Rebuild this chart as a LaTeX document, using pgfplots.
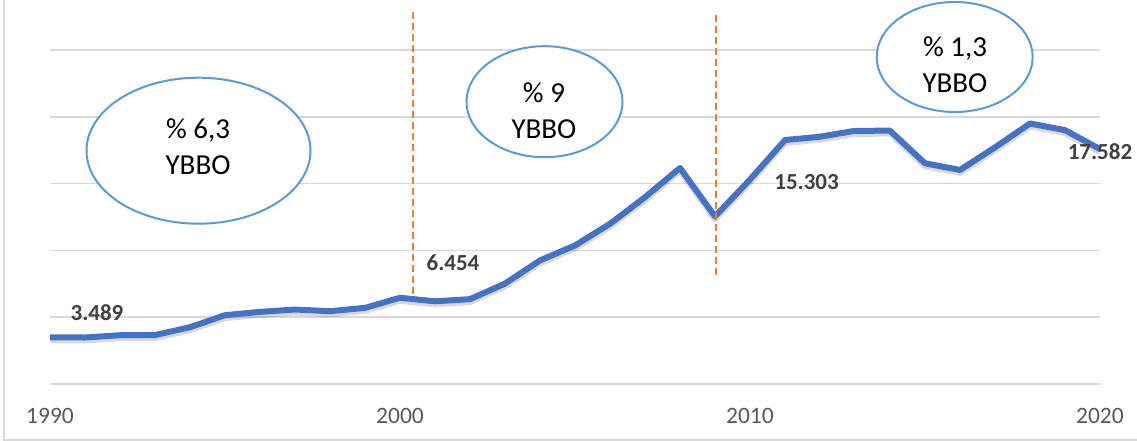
\documentclass[border=0pt]{standalone}
\usepackage{fontspec}
\setmainfont{Carlito}
\usepackage{pgfplots}
\usepackage{pgfplotstable}
\pgfplotsset{compat=1.18}
\definecolor{linecol}{HTML}{4472C4}
\definecolor{ellcol}{HTML}{5B9BD5}
\definecolor{dashcol}{HTML}{ED7D31}
\definecolor{gridcol}{HTML}{D9D9D9}
\definecolor{tickcol}{HTML}{595959}
\definecolor{labcol}{HTML}{404040}
\pgfplotstableread{
year value
1990 3489
1991 3480
1992 3650
1993 3660
1994 4250
1995 5150
1996 5400
1997 5575
1998 5450
1999 5700
2000 6454
2001 6190
2002 6350
2003 7515
2004 9250
2005 10370
2006 11990
2007 13980
2008 16170
2009 12540
2010 15303
2011 18260
2012 18510
2013 18950
2014 18960
2015 16520
2016 16020
2017 17710
2018 19500
2019 19000
2020 17582
}\datatable
\begin{document}
\begin{tikzpicture}
\useasboundingbox (-50pt,-57pt) rectangle (1087pt,384pt);
\draw[gridcol, line width=1.5pt] (-46pt,384pt) -- (-46pt,-56pt) -- (1087pt,-56pt);
\begin{axis}[
  scale only axis, width=1050pt, height=334pt,
  xmin=1990, xmax=2020, ymin=0, ymax=25000,
  xtick={1990,2000,2010,2020},
  ytick={0,5000,10000,15000,20000,25000},
  yticklabels={},
  scaled y ticks=false,
  ymajorgrids, grid style={gridcol, line width=1.5pt},
  axis line style={draw=none},
  major tick length=0pt,
  xticklabel style={font=\fontsize{23.5}{28}\selectfont, text=tickcol, anchor=base, yshift=-40pt},
  /pgf/number format/1000 sep={},
  /pgf/number format/assume math mode=true,
  clip=false,
]
\addplot[black, opacity=0.15, line width=6pt, line join=round, yshift=-3pt, forget plot] table[x=year, y=value] {\datatable};
\addplot[linecol, line width=6pt, line join=round] table[x=year, y=value] {\datatable};

\draw[dashcol, line width=2pt, dash pattern=on 7pt off 4pt] (axis cs:2000.371,27844) -- (axis cs:2000.371,6587);
\draw[dashcol, line width=2pt, dash pattern=on 7pt off 4pt] (axis cs:2009.029,27620) -- (axis cs:2009.029,8159);

\draw[ellcol, line width=2pt, fill=white] (axis cs:1994.243,17463) ellipse [x radius=112pt, y radius=73pt];
\draw[ellcol, line width=2pt, fill=white] (axis cs:2004.129,21130) ellipse [x radius=78pt, y radius=55.5pt];
\draw[ellcol, line width=2pt, fill=white] (axis cs:2015.849,24476) ellipse [x radius=78pt, y radius=55pt];

\node[align=center, font=\fontsize{29}{36}\selectfont] at (axis cs:1994.23,17777) {\% 6,3\\YBBO};
\node[align=center, font=\fontsize{29}{36}\selectfont] at (axis cs:2004.114,20472) {\% 9\\YBBO};
\node[align=center, font=\fontsize{29}{36}\selectfont] at (axis cs:2015.857,23915) {\% 1,3\\YBBO};

\node[font=\bfseries\fontsize{23}{28}\selectfont, text=labcol] at (axis cs:1991.343,5314) {3.489};
\node[font=\bfseries\fontsize{23}{28}\selectfont, text=labcol] at (axis cs:2001.514,9057) {6.454};
\node[font=\bfseries\fontsize{23}{28}\selectfont, text=labcol] at (axis cs:2011.617,15082) {15.303};
\node[font=\bfseries\fontsize{23}{28}\selectfont, text=labcol] at (axis cs:2020.0,17418) {17.582};
\end{axis}
\end{tikzpicture}
\end{document}
